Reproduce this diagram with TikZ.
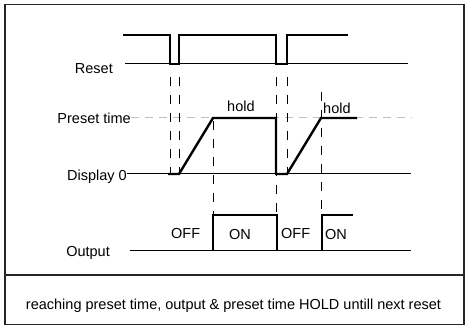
\documentclass[tikz,border=0pt]{standalone}
\usepackage{fontspec}
\setmainfont{Liberation Sans}

\begin{document}
\begin{tikzpicture}[x=1pt, y=-1pt, font=\fontsize{14.5}{16}\selectfont,
  sig/.style={line width=2.4pt, line join=miter},
  base/.style={line width=1pt},
  guide/.style={line width=0.9pt, dash pattern=on 9pt off 9pt},
  lvl/.style={line width=1pt, gray!50, dash pattern=on 8pt off 6pt},
  lbl/.style={inner sep=0pt, anchor=base east},
  tag/.style={inner sep=0pt, anchor=base west}]
\useasboundingbox (0,0) rectangle (466,326);
% frame
\draw[line width=1.6pt, black!85] (5,4.5) rectangle (464,324.5);
\draw[line width=1.2pt, black!85] (5,275) -- (464,275);
% levels
\draw[base] (125,64) -- (408,64);
\draw[lvl] (131,118) -- (412,118);
\draw[base] (127,174) -- (411,174);
\draw[base] (130,250) -- (411,250);
% guides
\draw[guide] (170,77) -- (170,174);
\draw[guide] (179,77) -- (179,174);
\draw[guide] (213,121) -- (213,215);
\draw[guide] (276,77) -- (276,215);
\draw[guide] (287,77) -- (287,174);
\draw[guide] (321,92) -- (321,215);
% signals
\draw[sig] (123,35) -- (170,35) -- (170,64) -- (179,64) -- (179,35) -- (276,35)
  -- (276,64) -- (287,64) -- (287,35) -- (348,35);
\draw[sig] (168,174) -- (179,174) -- (213,118) -- (276,118) -- (276,174)
  -- (287,174) -- (321,118) -- (357,118);
\draw[sig] (213,250) -- (213,215) -- (277,215) -- (277,250);
\draw[sig] (322,250) -- (322,215) -- (353,215);
% labels
\node[lbl] (treset) at (113,74) {Reset};
\node[lbl] (tpreset) at (131,124) {Preset time};
\node[lbl] (tdisp) at (127,180) {Display 0};
\node[lbl] (tout) at (110,256) {Output};
\node[tag] (hold1) at (227,112) {hold};
\node[tag] (hold2) at (323,114) {hold};
\node[tag] (off1) at (171,238) {OFF};
\node[tag] (on1) at (229,239) {ON};
\node[tag] (off2) at (281,238) {OFF};
\node[tag] (on2) at (325,239) {ON};
\node[inner sep=0pt, anchor=base] (note) at (233.5,309)
  {reaching preset time, output \& preset time HOLD untill next reset};
\end{tikzpicture}
\end{document}
